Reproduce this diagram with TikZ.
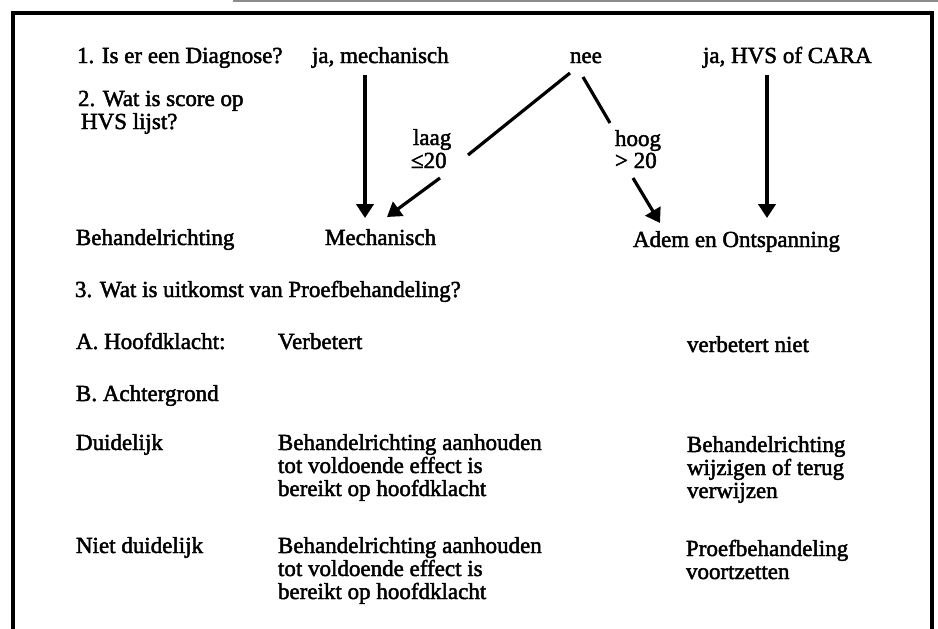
\documentclass[tikz,border=0pt]{standalone}
\usepackage{fontspec}
\newfontfamily\scanfont{Liberation Serif}[BoldFont=Liberation Serif,BoldFeatures={FakeBold=2}]
\usetikzlibrary{arrows.meta,calc}
\begin{document}
\begin{tikzpicture}[x=0.75pt,y=-0.75pt,
  txt/.style={anchor=base west,inner sep=0pt,outer sep=0pt,font=\scanfont\bfseries\fontsize{17.25}{17.25}\selectfont},
  conn/.style={line width=2.4pt,line cap=butt},
  arr/.style={conn,-{Triangle[width=13pt,length=10.5pt]}},
  framestyle/.style={line width=2.3pt},
  scanline/.style={line width=1.5pt,black!45}]
\useasboundingbox (0,0) rectangle (938,628);
% frame
\draw[scanline] (233,1) -- (938,1);
\draw[framestyle] (13,630) -- (13,13) -- (932,13) -- (932,630);
% row 1
\node[txt] (q1) at (77,63) {1. Is er een Diagnose?};
\node[txt] (jamech) at (312,63) {ja, mechanisch};
\node[txt] (nee) at (570,63) {nee};
\node[txt] (jahvs) at (703,63) {ja, HVS of CARA};
% row 2
\node[txt] (q2a) at (78,106) {2. Wat is score op};
\node[txt] (q2b) at (81,129) {HVS lijst?};
\node[txt] (laag) at (413,145) {laag};
\node[txt] (le20) at (411,168) {≤20};
\node[txt] (hoog) at (615,146) {hoog};
\node[txt] (gt20) at (615,168) {> 20};
% treatment direction
\node[txt] (behr) at (76,245) {Behandelrichting};
\node[txt] (mech) at (325,245) {Mechanisch};
\node[txt] (adem) at (633,247) {Adem en Ontspanning};
% connectors
\draw[arr] ($(jamech.base west)+(53,12)$) -- ($(mech.base west)+(40,-27)$);
\draw[conn] ($(nee.base west)+(0,10)$) -- ($(laag.base west)+(55,10)$);
\draw[arr] ($(le20.base west)+(29,10)$) -- ($(mech.base west)+(62,-28)$);
\draw[conn] ($(nee.base west)+(13,14)$) -- ($(hoog.base west)+(-5,-23)$);
\draw[arr] ($(gt20.base west)+(18,10)$) -- ($(adem.base west)+(27,-24)$);
\draw[arr] ($(jahvs.base west)+(64,12)$) -- ($(adem.base west)+(134,-29)$);
% question 3
\node[txt] (q3) at (75,297) {3. Wat is uitkomst van Proefbehandeling?};
\node[txt] (qa) at (76,349) {A. Hoofdklacht:};
\node[txt] (verb) at (278,349) {Verbetert};
\node[txt] (nverb) at (687,352) {verbetert niet};
\node[txt] (qb) at (76,401) {B. Achtergrond};
% duidelijk
\node[txt] (duid) at (76,450) {Duidelijk};
\node[txt] (d1) at (278,450) {Behandelrichting aanhouden};
\node[txt] (d2) at (278,473) {tot voldoende effect is};
\node[txt] (d3) at (278,496) {bereikt op hoofdklacht};
\node[txt] (r1) at (687,452) {Behandelrichting};
\node[txt] (r2) at (687,475) {wijzigen of terug};
\node[txt] (r3) at (687,498) {verwijzen};
% niet duidelijk
\node[txt] (nduid) at (76,553) {Niet duidelijk};
\node[txt] (n1) at (278,553) {Behandelrichting aanhouden};
\node[txt] (n2) at (278,576) {tot voldoende effect is};
\node[txt] (n3) at (278,599) {bereikt op hoofdklacht};
\node[txt] (p1) at (686,556) {Proefbehandeling};
\node[txt] (p2) at (686,579) {voortzetten};
\end{tikzpicture}
\end{document}
